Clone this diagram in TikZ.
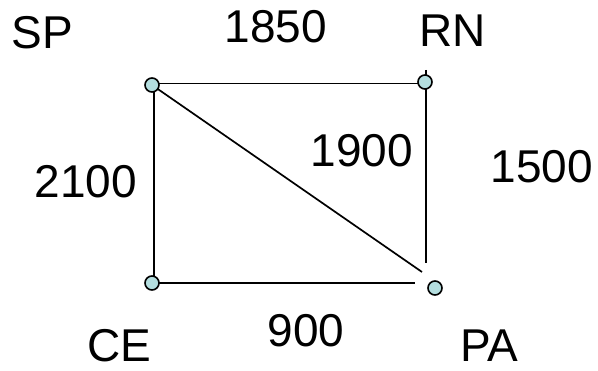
\documentclass[tikz,border=0pt]{standalone}
\usepackage{fontspec}
\setmainfont{Liberation Sans}
\begin{document}
\begin{tikzpicture}[x=1pt,y=-1pt,
  vtx/.style={circle,draw=black,line width=1.6pt,fill=vfill,minimum size=14pt,inner sep=0pt},
  edge/.style={line width=1.7pt,black},
  lbl/.style={anchor=base,inner sep=0pt,font=\fontsize{46}{46}\selectfont}]
\definecolor{vfill}{HTML}{B4DEDF}
\useasboundingbox (0,0) rectangle (598,371);
% line end points
\coordinate (tl) at (152,83.5);
\coordinate (tr) at (426,83.5);
\coordinate (rtop) at (426,70);
\coordinate (rbot) at (426,263);
\coordinate (lt) at (154,85);
\coordinate (lb) at (154,283);
\coordinate (bl) at (152,283.3);
\coordinate (br) at (415,283.3);
\coordinate (dstart) at (152,85);
\coordinate (dend) at (422,272);
\draw[edge] (tl) -- (tr);
\draw[edge] (rtop) -- (rbot);
\draw[edge] (lt) -- (lb);
\draw[edge] (bl) -- (br);
\draw[edge] (dstart) -- (dend);
% vertices
\node[vtx] (sp) at (152,85) {};
\node[vtx] (rn) at (425,82) {};
\node[vtx] (ce) at (152,283) {};
\node[vtx] (pa) at (435,288) {};
% labels
\node[lbl] (lsp) at (42.5,49) {SP};
\node[lbl] (lrn) at (453,47) {RN};
\node[lbl] (lce) at (119,362) {CE};
\node[lbl] (lpa) at (489,362) {PA};
\node[lbl] (w1850) at (276,43) {1850};
\node[lbl] (w2100) at (86,198) {2100};
\node[lbl] (w1900) at (362,167) {1900};
\node[lbl] (w1500) at (542,183) {1500};
\node[lbl] (w900) at (306,347) {900};
\end{tikzpicture}
\end{document}
